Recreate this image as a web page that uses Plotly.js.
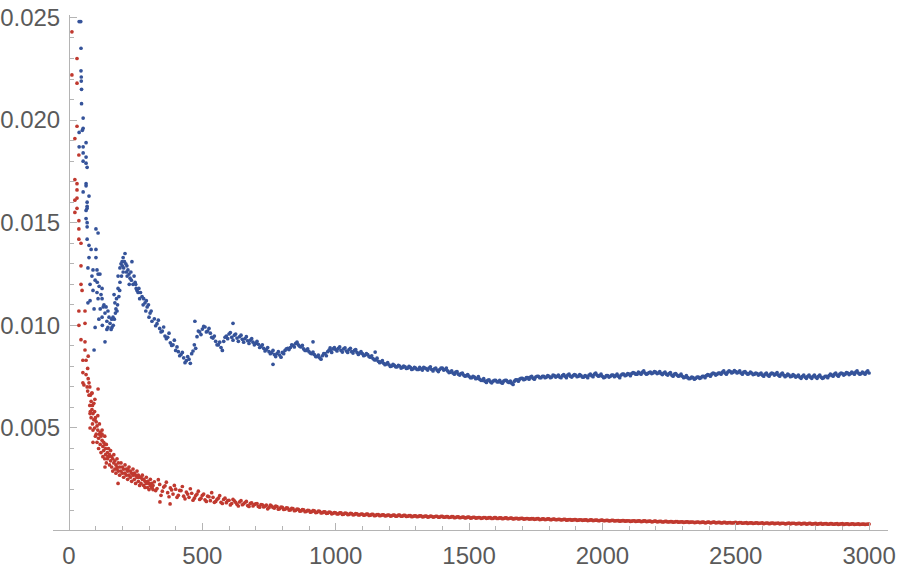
<!DOCTYPE html>
<html>
<head>
<meta charset="utf-8">
<script src="https://cdn.plot.ly/plotly-3.0.1.min.js"></script>
<style>html,body{margin:0;padding:0;background:#fff}#chart{width:900px;height:571px}</style>
</head>
<body>
<div id="chart"></div>
<script>
// ---- Blue series: scattered early points (x, y) ----
const blueEarlyX = [38,44,45,45,46,46,47,47,53,53,38,50,38,53,53,64,64,53,64,68,64,64,53,75,68,68,68,64,64,68,68,101,109,68,75,83,101,75,101,71,90,105,109,116,79,98,90,105,124,79,109,124,94,128,71,135,146,124,142,154,146,161,142,98,135,94,165,180,172,169,184,191,184,191,199,203,210,217,221,236,229,240,255,259,248,274,285,293,304,311,195,200,205,208,213,215,225,232,244,250,262,268,280,290,298,176,187,178,170,160,150,139,131,120,113,86,472,615,765,915,979,1148,203,218,226,234,252,265,278,288,300,308,158,166,174,182,190,197,125,117,106,112];
const blueEarlyY = [0.0248,0.0248,0.0235,0.0224,0.0221,0.0219,0.0215,0.0208,0.0201,0.0196,0.0194,0.0195,0.0187,0.0187,0.0184,0.0189,0.0182,0.0180,0.0179,0.0177,0.0169,0.0168,0.0165,0.0163,0.0160,0.0158,0.0157,0.0156,0.0152,0.0150,0.0148,0.0147,0.0145,0.0142,0.0139,0.0137,0.0137,0.0133,0.0133,0.0128,0.0127,0.0127,0.0125,0.0125,0.0120,0.0122,0.0117,0.0116,0.0118,0.0112,0.0113,0.0113,0.0108,0.0109,0.0111,0.0106,0.0107,0.0104,0.0102,0.0101,0.0099,0.0099,0.0098,0.0099,0.0092,0.0088,0.0104,0.0107,0.0111,0.0115,0.0118,0.0121,0.0124,0.0128,0.0131,0.0133,0.0135,0.0129,0.0127,0.0131,0.0123,0.0120,0.0117,0.0116,0.0121,0.0114,0.0111,0.0109,0.0106,0.0102,0.0130,0.0129,0.0128,0.0131,0.0130,0.0126,0.0125,0.0126,0.0124,0.0120,0.0118,0.0116,0.0113,0.0112,0.0110,0.0108,0.0114,0.0113,0.0103,0.0103,0.0104,0.0109,0.0110,0.0115,0.0119,0.0124,0.0102,0.0101,0.0081,0.0092,0.0089,0.0087,0.0126,0.0124,0.0120,0.0122,0.0118,0.0113,0.0110,0.0107,0.0104,0.0107,0.0098,0.0100,0.0106,0.0110,0.0117,0.0124,0.0100,0.0108,0.0121,0.0103];
// ---- Blue series: regular samples, x = 320, 330, ..., 3000 ----
const blueMainStart = 320, blueMainStep = 10;
const blueMainY = [
0.01032,0.01008,0.00985,0.00972,0.00948,0.00942,0.00915,0.00905,
0.00878,0.00872,0.00858,0.00842,0.00828,0.00835,0.00862,0.00905,0.00945,0.00968,
0.00982,0.00992,0.00972,0.00962,0.00938,0.00922,0.00905,0.00892,0.00922,0.00948,
0.00958,0.00942,0.00952,0.00938,0.00945,0.00932,0.00935,0.00925,0.00928,0.00918,
0.00912,0.00908,0.00898,0.00888,0.00882,0.00872,0.00868,0.00858,0.00862,0.00855,
0.00868,0.00878,0.00888,0.00892,0.00902,0.00912,0.00905,0.00895,0.00885,0.00878,
0.00872,0.00862,0.00858,0.00848,0.00842,0.00852,0.00862,0.00872,0.00878,0.00885,
0.00882,0.00888,0.00878,0.00885,0.00875,0.00882,0.00872,0.00878,0.00868,0.00865,
0.00862,0.00855,0.00858,0.00845,0.00838,0.00832,0.00825,0.00822,0.00815,0.00812,
0.00808,0.00802,0.00805,0.00798,0.00802,0.00795,0.00798,0.00792,0.00795,0.00788,
0.00792,0.00785,0.00788,0.00795,0.00788,0.00792,0.00785,0.00788,0.00782,0.00785,
0.00792,0.00785,0.00778,0.00772,0.00768,0.00772,0.00762,0.00765,0.00758,0.00755,
0.00752,0.00745,0.00748,0.00742,0.00738,0.00732,0.00728,0.00732,0.00725,0.00728,
0.00732,0.00725,0.00722,0.00728,0.00732,0.00722,0.00718,0.00728,0.00735,0.00738,
0.00742,0.00738,0.00745,0.00748,0.00742,0.00748,0.00752,0.00745,0.00752,0.00748,
0.00752,0.00748,0.00755,0.00752,0.00748,0.00755,0.00752,0.00758,0.00752,0.00755,
0.00758,0.00752,0.00755,0.00748,0.00752,0.00758,0.00755,0.00762,0.00758,0.00755,
0.00752,0.00748,0.00755,0.00752,0.00758,0.00755,0.00752,0.00758,0.00762,0.00758,
0.00762,0.00765,0.00768,0.00762,0.00768,0.00772,0.00768,0.00765,0.00772,0.00768,
0.00772,0.00768,0.00765,0.00768,0.00762,0.00765,0.00758,0.00762,0.00758,0.00755,
0.00752,0.00748,0.00745,0.00742,0.00745,0.00742,0.00748,0.00745,0.00752,0.00755,
0.00758,0.00762,0.00765,0.00762,0.00768,0.00772,0.00768,0.00772,0.00775,0.00772,
0.00775,0.00772,0.00768,0.00772,0.00768,0.00765,0.00768,0.00762,0.00765,0.00762,
0.00758,0.00762,0.00758,0.00762,0.00765,0.00762,0.00758,0.00762,0.00758,0.00755,
0.00758,0.00752,0.00755,0.00752,0.00748,0.00752,0.00748,0.00752,0.00748,0.00752,
0.00748,0.00752,0.00748,0.00745,0.00752,0.00755,0.00758,0.00762,0.00758,0.00762,
0.00765,0.00762,0.00768,0.00765,0.00768,0.00772,0.00768,0.00765,0.00768,0.00772,
0.00768];
// ---- Blue series: in-between samples, x = 325, 335, ..., 2995 ----
const blueFillStart = 325, blueFillStep = 10;
const blueFillY = [
0.00998,0.01025,0.00968,0.00992,0.00935,0.00962,0.00902,0.00928,
0.00895,0.00852,0.00868,0.00818,0.00848,0.00815,0.00875,0.00888,0.00972,0.00955,
0.00995,0.00968,0.00985,0.00942,0.00948,0.00905,0.00918,0.00878,0.00942,0.00935,
0.00965,0.00928,0.00958,0.00922,0.00952,0.00918,0.00945,0.00912,0.00935,0.00905,
0.00922,0.00892,0.00905,0.00875,0.00892,0.00862,0.00878,0.00848,0.00872,0.00845,
0.00862,0.00885,0.00882,0.00905,0.00895,0.00918,0.00898,0.00902,0.00878,0.00885,
0.00865,0.00870,0.00848,0.00855,0.00835,0.00862,0.00852,0.00880,0.00868,0.00892,
0.00875,0.00895,0.00870,0.00890,0.00868,0.00888,0.00865,0.00882,0.00858,0.00872,
0.00852,0.00862,0.00848,0.00852,0.00832,0.00840,0.00818,0.00828,0.00808,0.00818,
0.00800,0.00810,0.00798,0.00805,0.00792,0.00802,0.00790,0.00800,0.00785,0.00795,
0.00785,0.00795,0.00782,0.00792,0.00782,0.00798,0.00778,0.00792,0.00775,0.00792,
0.00782,0.00792,0.00770,0.00778,0.00762,0.00775,0.00758,0.00768,0.00752,0.00760,
0.00745,0.00752,0.00740,0.00750,0.00732,0.00740,0.00722,0.00735,0.00720,0.00732,
0.00725,0.00732,0.00718,0.00732,0.00725,0.00728,0.00712,0.00735,0.00728,0.00742,
0.00735,0.00745,0.00738,0.00752,0.00738,0.00752,0.00745,0.00752,0.00745,0.00755,
0.00745,0.00758,0.00748,0.00758,0.00745,0.00760,0.00745,0.00762,0.00748,0.00760,
0.00750,0.00760,0.00748,0.00755,0.00745,0.00762,0.00750,0.00768,0.00752,0.00762,
0.00745,0.00755,0.00748,0.00758,0.00750,0.00762,0.00745,0.00762,0.00755,0.00765,
0.00755,0.00770,0.00762,0.00772,0.00762,0.00778,0.00762,0.00770,0.00765,0.00775,
0.00765,0.00775,0.00760,0.00772,0.00758,0.00770,0.00752,0.00765,0.00752,0.00762,
0.00745,0.00755,0.00740,0.00748,0.00738,0.00748,0.00742,0.00752,0.00745,0.00760,
0.00752,0.00768,0.00758,0.00768,0.00762,0.00778,0.00762,0.00778,0.00768,0.00780,
0.00768,0.00778,0.00762,0.00775,0.00762,0.00772,0.00760,0.00768,0.00758,0.00768,
0.00752,0.00768,0.00752,0.00768,0.00758,0.00770,0.00752,0.00768,0.00750,0.00762,
0.00750,0.00760,0.00748,0.00758,0.00742,0.00758,0.00742,0.00758,0.00742,0.00758,
0.00742,0.00758,0.00742,0.00752,0.00745,0.00762,0.00752,0.00768,0.00752,0.00768,
0.00758,0.00770,0.00760,0.00772,0.00762,0.00778,0.00762,0.00772,0.00762,0.00778];

// ---- Red series: scattered early points ----
const redEarlyX = [11,30,11,30,30,22,37,22,30,30,30,22,30,22,37,37,37,45,45,45,49,37,60,37,60,45,60,60,52,64,52,64,56,68,109,52,86,97,79,97,79,124,90,135,146,180,221,259,311,341,379,184,135];
const redEarlyY = [0.0243,0.0230,0.0222,0.0218,0.0197,0.0191,0.0183,0.0171,0.0169,0.0166,0.0162,0.0161,0.0157,0.0155,0.0151,0.0147,0.0142,0.0140,0.0129,0.0120,0.0117,0.0107,0.0107,0.0100,0.0101,0.0093,0.0092,0.0088,0.0083,0.0083,0.0077,0.0076,0.0071,0.0070,0.0069,0.0072,0.0067,0.0064,0.0057,0.0054,0.0050,0.0047,0.0043,0.0042,0.0036,0.0031,0.0030,0.0026,0.0021,0.0014,0.0013,0.0023,0.0031];
const redBandX = [70,70,72,72,75,75,78,78,80,80,83,83,86,86,88,88,90,90,93,93,96,96,99,99,102,102,105,105,108,108,111,111,114,114,117,117,120,120,124,124,127,127,130,130,134,134,137,137,140,140,144,144,148,148,152,152,156,156,160,160,164,164,168,168,172,172,176,176,180,180,185,185,190,190,195,195,200,200,205,205,210,210,215,215,220,220,225,225,230,230,235,235,240,240,245,245,250,250,255,255,260,260,265,265,270,270,275,275,280,280,285,285,290,290,295,295,300,300,305,305,310,310,315,315];
const redBandY = [0.0079,0.0068,0.0074,0.0085,0.0066,0.0072,0.0061,0.0070,0.0058,0.0066,0.0063,0.0055,0.0067,0.0059,0.0052,0.0061,0.0057,0.0049,0.0062,0.0054,0.0050,0.0058,0.0046,0.0055,0.0053,0.0047,0.0043,0.0051,0.0049,0.0056,0.0045,0.0040,0.0047,0.0052,0.0042,0.0048,0.0038,0.0046,0.0044,0.0049,0.0041,0.0036,0.0043,0.0039,0.0035,0.0046,0.0040,0.0037,0.0042,0.0033,0.0038,0.0035,0.0036,0.0040,0.0032,0.0037,0.0039,0.0034,0.0031,0.0036,0.0035,0.0029,0.0033,0.0037,0.0030,0.0034,0.0032,0.0028,0.0035,0.0030,0.0029,0.0033,0.0031,0.0027,0.0033,0.0029,0.0028,0.0031,0.0030,0.0026,0.0032,0.0028,0.0027,0.0030,0.0029,0.0025,0.0031,0.0027,0.0026,0.0029,0.0028,0.0024,0.0027,0.0030,0.0025,0.0028,0.0027,0.0023,0.0026,0.0029,0.0024,0.0027,0.0026,0.0022,0.0023,0.0026,0.0025,0.0027,0.0022,0.0025,0.0024,0.0021,0.0023,0.0026,0.0021,0.0024,0.0023,0.0020,0.0022,0.0025,0.0021,0.0023,0.0020,0.0022];
// ---- Red series: regular samples, x = 320, 330, ..., 3000 ----
const redMainStart = 320, redMainStep = 10;
const redMainY = [
0.00238,0.00205,0.00225,0.00192,0.00218,0.00185,0.00208,0.00178,
0.00202,0.00172,0.00195,0.00168,0.00188,0.00162,0.00182,0.00158,0.00178,0.00152,
0.00172,0.00150,0.00168,0.00146,0.00162,0.00142,0.00158,0.00138,0.00152,0.00136,
0.00148,0.00132,0.00145,0.00128,0.00140,0.00126,0.00137,0.00122,0.00133,0.00120,
0.00130,0.00118,0.00127,0.00115,0.00124,0.00112,0.00120,0.00110,0.00117,0.00107,
0.00113,0.00104,0.00110,0.00101,0.00107,0.00099,0.00104,0.00096,0.00101,0.00094,
0.00098,0.00092,0.00096,0.00089,0.00094,0.00087,0.00091,0.00085,0.00089,0.00084,
0.00087,0.00082,0.00086,0.00080,0.00084,0.00079,0.00083,0.00078,0.00082,0.00077,
0.00081,0.00076,0.00080,0.00075,0.00079,0.00074,0.00078,0.00074,0.00077,0.00073,
0.00076,0.00072,0.00075,0.00071,0.00075,0.00071,0.00074,0.00070,0.00073,0.00069,
0.00072,0.00069,0.00072,0.00068,0.00071,0.00067,0.00070,0.00067,0.00070,0.00066,
0.00069,0.00066,0.00068,0.00065,0.00068,0.00064,0.00067,0.00064,0.00066,0.00063,
0.00066,0.00062,0.00065,0.00062,0.00064,0.00061,0.00064,0.00061,0.00063,0.00060,
0.00063,0.00060,0.00062,0.00059,0.00062,0.00059,0.00061,0.00058,0.00060,0.00058,
0.00060,0.00057,0.00059,0.00057,0.00058,0.00056,0.00058,0.00055,0.00057,0.00055,
0.00057,0.00054,0.00056,0.00054,0.00055,0.00053,0.00055,0.00052,0.00054,0.00052,
0.00054,0.00051,0.00053,0.00051,0.00052,0.00050,0.00052,0.00050,0.00051,0.00049,
0.00051,0.00049,0.00050,0.00048,0.00050,0.00048,0.00049,0.00047,0.00049,0.00047,
0.00048,0.00046,0.00048,0.00046,0.00047,0.00045,0.00047,0.00045,0.00046,0.00044,
0.00046,0.00044,0.00045,0.00043,0.00045,0.00043,0.00044,0.00042,0.00044,0.00042,
0.00043,0.00041,0.00043,0.00041,0.00042,0.00040,0.00042,0.00040,0.00041,0.00039,
0.00041,0.00039,0.00041,0.00039,0.00040,0.00038,0.00040,0.00038,0.00039,0.00038,
0.00040,0.00038,0.00039,0.00037,0.00039,0.00037,0.00038,0.00036,0.00038,0.00036,
0.00038,0.00036,0.00037,0.00035,0.00037,0.00035,0.00037,0.00035,0.00036,0.00034,
0.00037,0.00035,0.00036,0.00034,0.00036,0.00034,0.00035,0.00033,0.00035,0.00033,
0.00035,0.00033,0.00035,0.00033,0.00034,0.00032,0.00034,0.00032,0.00034,0.00032,
0.00034,0.00032,0.00033,0.00031,0.00033,0.00031,0.00033,0.00031,0.00032,0.00031,
0.00032];
// ---- Red series: in-between samples, x = 325, 335, ..., 2995 ----
const redFillStart = 325, redFillStep = 10;
const redFillY = [
0.00195,0.00248,0.00172,0.00212,0.00236,0.00165,0.00198,0.00220,
0.00162,0.00196,0.00215,0.00155,0.00178,0.00204,0.00148,0.00170,0.00192,0.00158,
0.00178,0.00142,0.00165,0.00185,0.00138,0.00152,0.00170,0.00132,0.00158,0.00146,
0.00125,0.00152,0.00138,0.00120,0.00146,0.00131,0.00142,0.00118,0.00135,0.00127,
0.00132,0.00114,0.00126,0.00119,0.00106,0.00124,0.00113,0.00120,0.00104,0.00115,
0.00103,0.00111,0.00100,0.00108,0.00097,0.00105,0.00095,0.00102,0.00092,0.00099,
0.00090,0.00097,0.00088,0.00095,0.00086,0.00092,0.00084,0.00090,0.00082,0.00088,
0.00081,0.00087,0.00079,0.00085,0.00078,0.00084,0.00077,0.00083,0.00076,0.00081,
0.00075,0.00080,0.00074,0.00079,0.00073,0.00078,0.00073,0.00077,0.00072,0.00076,
0.00071,0.00075,0.00070,0.00075,0.00070,0.00074,0.00069,0.00073,0.00068,0.00072,
0.00068,0.00072,0.00067,0.00071,0.00066,0.00071,0.00066,0.00070,0.00065,0.00069,
0.00065,0.00068,0.00064,0.00068,0.00063,0.00067,0.00063,0.00066,0.00062,0.00066,
0.00061,0.00065,0.00061,0.00064,0.00060,0.00064,0.00060,0.00063,0.00059,0.00063,
0.00059,0.00062,0.00058,0.00062,0.00058,0.00061,0.00057,0.00060,0.00057,0.00060,
0.00056,0.00059,0.00056,0.00058,0.00055,0.00058,0.00054,0.00057,0.00054,0.00057,
0.00053,0.00056,0.00053,0.00055,0.00052,0.00055,0.00051,0.00054,0.00051,0.00054,
0.00050,0.00053,0.00050,0.00052,0.00049,0.00052,0.00049,0.00051,0.00048,0.00051,
0.00048,0.00050,0.00047,0.00050,0.00047,0.00049,0.00046,0.00049,0.00046,0.00048,
0.00045,0.00048,0.00045,0.00047,0.00044,0.00047,0.00044,0.00046,0.00043,0.00046,
0.00043,0.00045,0.00042,0.00045,0.00042,0.00044,0.00041,0.00044,0.00041,0.00043,
0.00040,0.00043,0.00040,0.00042,0.00039,0.00042,0.00039,0.00041,0.00038,0.00041,
0.00038,0.00041,0.00038,0.00040,0.00037,0.00040,0.00037,0.00039,0.00037,0.00039,
0.00036,0.00039,0.00036,0.00038,0.00035,0.00038,0.00035,0.00038,0.00035,0.00037,
0.00034,0.00037,0.00034,0.00037,0.00034,0.00036,0.00033,0.00036,0.00033,0.00036,
0.00033,0.00036,0.00033,0.00035,0.00032,0.00035,0.00032,0.00035,0.00032,0.00034,
0.00031,0.00034,0.00031,0.00034,0.00031,0.00034,0.00031,0.00033,0.00030,0.00033,
0.00030,0.00033,0.00030,0.00033,0.00030,0.00032,0.00030,0.00032,0.00030,0.00032];

// ---- Axis ticks ----
const xTickVals = [0,500,1000,1500,2000,2500,3000];
const xTickText = ['0','500','1000','1500','2000','2500','3000'];
const yTickVals = [0.005,0.010,0.015,0.020,0.025];
const yTickText = ['0.005','0.010','0.015','0.020','0.025'];

function seq(start, step, n){ const a=[]; for(let i=0;i<n;i++) a.push(start+step*i); return a; }

const blueX = blueEarlyX.concat(seq(blueMainStart, blueMainStep, blueMainY.length), seq(blueFillStart, blueFillStep, blueFillY.length));
const blueY = blueEarlyY.concat(blueMainY, blueFillY);
const redX = redEarlyX.concat(redBandX, seq(redMainStart, redMainStep, redMainY.length), seq(redFillStart, redFillStep, redFillY.length));
const redY = redEarlyY.concat(redBandY, redMainY, redFillY);

const markerSize = 3.7;
const traces = [
  {x: blueX, y: blueY, type: 'scatter', mode: 'markers', marker: {color: '#35539a', size: markerSize}, hoverinfo: 'skip'},
  {x: redX, y: redY, type: 'scatter', mode: 'markers', marker: {color: '#c0392f', size: markerSize}, hoverinfo: 'skip'}
];

const axisColor = '#b4b4b4';
const labelFont = {family: 'Liberation Sans, Arial, sans-serif', size: 24, color: '#5a5a5a'};
const layout = {
  width: 900, height: 571,
  margin: {l: 53, r: 12, t: 15, b: 41, pad: 0},
  paper_bgcolor: '#ffffff', plot_bgcolor: '#ffffff',
  showlegend: false,
  xaxis: {
    range: [-60, 3071], showgrid: false, zeroline: false,
    showline: true, linecolor: axisColor, linewidth: 1,
    ticks: 'inside', ticklen: 7, tickwidth: 1, tickcolor: axisColor,
    tickvals: xTickVals, ticktext: xTickText, tickfont: labelFont,
    ticklabelstandoff: 4,
    minor: {dtick: 100, ticks: 'inside', ticklen: 4, tickcolor: axisColor, showgrid: false}
  },
  yaxis: {
    range: [0.00003, 0.02512], showgrid: false, zeroline: false,
    anchor: 'free', position: 0.01916,
    showline: true, linecolor: axisColor, linewidth: 1,
    ticks: 'inside', ticklen: 7, tickwidth: 1, tickcolor: axisColor,
    tickvals: yTickVals, ticktext: yTickText, tickfont: labelFont,
    ticklabelstandoff: 4,
    minor: {dtick: 0.001, ticks: 'inside', ticklen: 4, tickcolor: axisColor, showgrid: false}
  }
};

Plotly.newPlot('chart', traces, layout, {staticPlot: true, displayModeBar: false});
</script>
</body>
</html>
